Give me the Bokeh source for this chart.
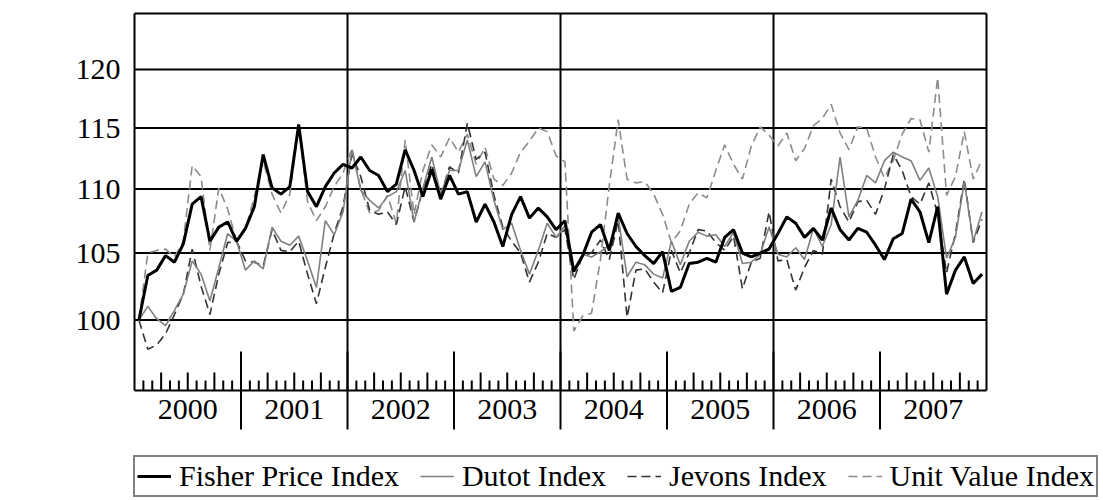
import numpy as np
from bokeh.plotting import figure
from bokeh.models import Range1d, FixedTicker, Legend, LegendItem, BasicTickFormatter
from bokeh.core.properties import value
from bokeh.embed import file_html
from bokeh.resources import INLINE

# ---------------- data ----------------
years = [2000, 2001, 2002, 2003, 2004, 2005, 2006, 2007]
year_labels = ["2000", "2001", "2002", "2003", "2004", "2005", "2006", "2007"]
y_ticks = [100, 105, 110, 115, 120]
y_tick_labels = ["100", "105", "110", "115", "120"]
series_names = ["Fisher Price Index", "Dutot Index", "Jevons Index", "Unit Value Index"]

fisher = [
    100.0, 103.3, 103.7, 104.8, 104.3, 105.7, 108.8, 109.4, 105.9, 107.0, 107.4, 105.9,
    106.9, 108.6, 112.8, 110.1, 109.6, 110.2, 115.3, 109.8, 108.6, 110.2, 111.3, 112.0,
    111.7, 112.6, 111.5, 111.1, 109.8, 110.4, 113.2, 111.5, 109.4, 111.6, 109.2, 111.1,
    109.6, 109.8, 107.4, 108.8, 107.4, 105.5, 108.0, 109.4, 107.7, 108.5, 107.8, 106.8,
    107.5, 103.6, 104.8, 106.6, 107.2, 105.2, 108.1, 106.5, 105.5, 104.8, 104.2, 105.1,
    102.1, 102.4, 104.2, 104.3, 104.6, 104.3, 106.2, 106.8, 105.0, 104.7, 105.0, 105.3,
    106.5, 107.8, 107.3, 106.2, 106.9, 106.0, 108.5, 106.8, 106.0, 106.9, 106.6, 105.6,
    104.5, 106.1, 106.5, 109.2, 108.2, 105.8, 108.6, 101.9, 103.7, 104.7, 102.7, 103.4,
]
dutot = [
    100.0, 101.0, 100.1, 99.6, 100.7, 101.9, 104.4, 103.4, 101.4, 103.9, 106.5, 105.9,
    103.7, 104.4, 103.8, 107.0, 105.9, 105.6, 106.3, 104.4, 102.4, 107.5, 106.4, 108.2,
    113.2, 109.9, 109.1, 108.5, 109.4, 109.8, 111.5, 107.4, 110.1, 112.6, 109.6, 111.5,
    111.5, 114.0, 111.0, 112.2, 109.1, 106.8, 107.3, 105.2, 103.4, 105.2, 107.3, 106.2,
    107.1, 103.8, 104.9, 104.7, 105.1, 105.6, 107.8, 103.2, 104.3, 104.1, 103.4, 103.1,
    105.9, 104.1, 105.9, 106.6, 106.3, 106.4, 105.5, 106.6, 104.2, 104.3, 104.9, 107.0,
    104.9, 104.7, 105.4, 104.5, 106.9, 105.5, 107.2, 112.6, 107.8, 109.1, 111.1, 110.5,
    112.3, 113.0, 112.6, 112.3, 110.7, 111.7, 109.4, 104.6, 106.2, 110.6, 105.9, 108.2,
]
jevons = [
    100.0, 97.9, 98.2, 99.0, 100.4, 101.9, 105.3, 102.5, 100.4, 103.4, 105.8, 105.9,
    104.4, 104.3, 104.0, 106.8, 105.2, 105.1, 105.9, 103.4, 101.2, 103.9, 106.5, 108.6,
    112.8, 111.0, 108.3, 108.0, 108.2, 107.2, 110.2, 107.4, 110.0, 112.0, 109.5, 111.8,
    111.3, 115.4, 112.4, 113.0, 109.5, 107.0, 105.9, 105.0, 102.8, 104.3, 106.5, 106.2,
    106.8, 103.0, 104.8, 105.0, 106.0, 104.5, 107.5, 100.2, 103.7, 103.8, 102.8, 102.0,
    105.2, 103.5, 105.0, 106.8, 106.7, 105.8, 105.2, 106.3, 102.3, 104.3, 104.6, 108.2,
    104.4, 104.5, 102.2, 103.9, 105.2, 104.9, 110.8, 108.6, 107.4, 109.0, 109.1, 108.0,
    110.0, 112.8, 111.5, 109.4, 108.8, 110.5, 108.0, 103.5, 106.5, 110.8, 105.8, 107.6,
]
unit_value = [
    100.0, 105.0, 105.2, 105.3, 104.7, 105.9, 111.9, 111.0, 105.2, 110.1, 108.4, 105.9,
    106.8, 109.4, 112.3, 109.6, 108.1, 109.6, 115.2, 109.0, 107.5, 108.6, 110.2, 111.3,
    113.3, 110.0, 108.1, 108.3, 109.5, 107.3, 114.0, 108.0, 111.5, 113.6, 112.6, 114.2,
    113.0, 114.5, 112.0, 113.4, 110.8, 110.3, 111.3, 113.0, 113.9, 115.0, 114.7, 112.7,
    112.2, 99.2, 100.3, 100.5, 104.5, 110.3, 115.7, 110.8, 110.5, 110.6, 109.6, 108.0,
    105.8, 106.7, 108.8, 109.7, 109.3, 111.5, 113.6, 112.0, 110.8, 113.5, 115.1, 114.4,
    113.5, 114.6, 112.3, 113.3, 115.2, 115.8, 117.0, 114.6, 113.2, 115.1, 115.0, 112.6,
    110.9, 112.3, 114.5, 115.8, 115.7, 113.0, 119.3, 109.5, 111.0, 114.7, 110.8, 112.4,
]

# monthly positions (mid-month, in fractional years)
months = np.arange(len(fisher))
x = years[0] + (months + 0.5) / 12.0

# ---------------- geometry / styles ----------------
FONT = "Liberation Serif"
W, H = 1103, 500
FRAME_LEFT, FRAME_TOP = 130, 11       # canvas px of the drawing frame
PAD_L, PAD_T = 4, 2                   # plot box inset inside the frame
PLOT_W, PLOT_H = 852, 377             # plot box size in px
Y0, Y1 = 95, 125                      # plot box value range (log)
X0, X1 = years[0], years[-1] + 1

PXY = PLOT_W / (X1 - X0)              # px per year
K = PLOT_H / np.log(Y1 / Y0)          # px per log unit
FRAME_W = W - FRAME_LEFT
FRAME_H = H - FRAME_TOP


def below(px):
    """value at px pixels below the plot box bottom (log scale)"""
    return Y0 * np.exp(-px / K)


def above(px):
    return Y0 * np.exp(px / K)


x_range = Range1d(X0 - PAD_L / PXY, X0 + (FRAME_W - PAD_L) / PXY)
y_range = Range1d(below(FRAME_H - PAD_T - PLOT_H), Y1 * np.exp(PAD_T / K))

styles = [
    dict(line_color="black", line_width=3),
    dict(line_color="#808080", line_width=1.6),
    dict(line_color="#333333", line_width=1.6, line_dash="9 5"),
    dict(line_color="#8c8c8c", line_width=1.6, line_dash="9 5"),
]

p = figure(width=W, height=H, x_range=x_range, y_range=y_range,
           y_axis_type="log", x_axis_location=None,
           output_backend="svg", toolbar_location=None,
           min_border_left=FRAME_LEFT, min_border_right=0,
           min_border_top=FRAME_TOP, min_border_bottom=0)
p.outline_line_color = None
p.grid.visible = False
p.background_fill_color = "white"

# y axis (real axis, labels only)
p.yaxis.ticker = FixedTicker(ticks=y_ticks)
p.yaxis.formatter = BasicTickFormatter()
p.yaxis.major_label_overrides = {t: l for t, l in zip(y_ticks, y_tick_labels)}
p.yaxis.major_tick_in = 0
p.yaxis.major_tick_out = 0
p.yaxis.minor_tick_in = 0
p.yaxis.minor_tick_out = 0
p.yaxis.axis_line_color = None
p.yaxis.major_label_text_font = FONT
p.yaxis.major_label_text_font_size = "30px"
p.yaxis.major_label_text_color = "black"
p.yaxis.major_label_standoff = 10

# horizontal grid lines inside the plot box
p.segment(x0=[X0] * len(y_ticks), y0=y_ticks, x1=[X1] * len(y_ticks), y1=y_ticks,
          line_color="black", line_width=2)
# vertical grid lines every second year
vg = [2002, 2004, 2006]
p.segment(x0=vg, y0=[Y0] * 3, x1=vg, y1=[Y1] * 3, line_color="black", line_width=2)

# year separators below the axis and tall ticks above it
bounds = years[1:]
p.segment(x0=bounds, y0=[below(39)] * len(bounds), x1=bounds, y1=[above(39)] * len(bounds),
          line_color="black", line_width=2)

# monthly ticks
tick_x, tick_top = [], []
for yr in years:
    for k in range(1, 12):
        tick_x.append(yr + k / 12.0)
        tick_top.append(above(18 if k % 3 == 0 else 10))
p.segment(x0=tick_x, y0=[Y0] * len(tick_x), x1=tick_x, y1=tick_top,
          line_color="black", line_width=2)

# year labels
p.text(x=[yr + 0.5 for yr in years], y=[below(19)] * len(years), text=year_labels,
       text_font=value(FONT), text_font_size="30px", text_color="black",
       text_align="center", text_baseline="middle")

# series (back to front)
r_uv = p.line(x, unit_value, **styles[3])
r_jev = p.line(x, jevons, **styles[2])
r_dut = p.line(x, dutot, **styles[1])
r_fis = p.line(x, fisher, **styles[0])

# plot box
p.segment(x0=[X0, X0, X0, X1], y0=[Y0, Y1, Y0, Y0], x1=[X1, X1, X0, X1], y1=[Y0, Y1, Y1, Y1],
          line_color="black", line_width=2)

legend = Legend(items=[LegendItem(label=n, renderers=[r]) for n, r in
                       zip(series_names, [r_fis, r_dut, r_jev, r_uv])],
                orientation="horizontal", location=(3, 3))
legend.margin = 0
legend.padding = 2
legend.spacing = 21
legend.glyph_width = 34
legend.glyph_height = 20
legend.label_standoff = 8
legend.label_text_font = FONT
legend.label_text_font_size = "30px"
legend.label_text_color = "black"
legend.border_line_color = "black"
legend.border_line_width = 2
legend.background_fill_alpha = 1.0
p.add_layout(legend)

open("out.html", "w").write(file_html(p, INLINE))
